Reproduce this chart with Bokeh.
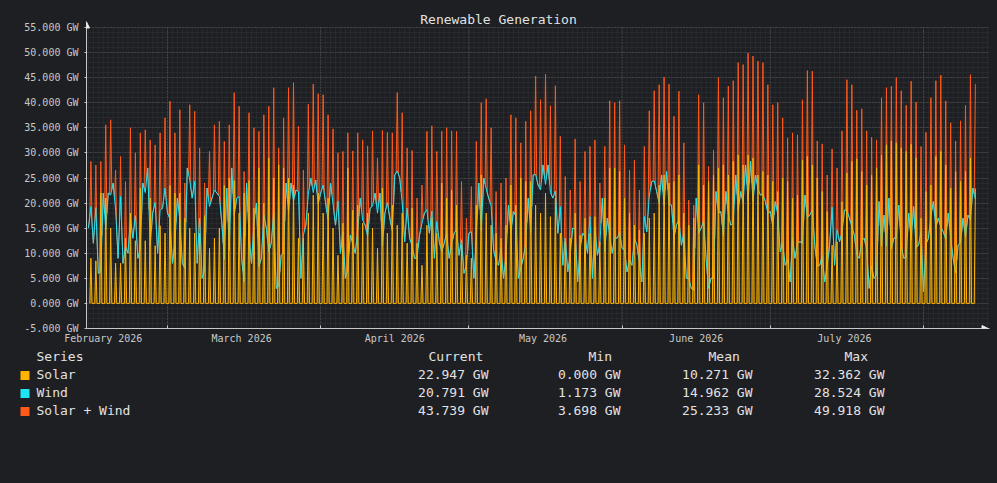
import numpy as np
from bokeh.plotting import figure
from bokeh.layouts import column
from bokeh.models import Range1d, FixedTicker, CustomJSTickFormatter, Arrow, NormalHead
from bokeh.core.properties import value
from bokeh.embed import file_html
from bokeh.resources import INLINE

# ---------------- data (days counted from 1 Feb 2026) ----------------
month_starts = [0, 28, 59, 89, 120, 150, 181]
month_label_pos = [15, 43, 74, 104, 135, 165]
month_labels = ["February 2026", "March 2026", "April 2026", "May 2026", "June 2026", "July 2026"]
first_day = 12  # 13 Feb 2026

# daily solar peak (GW, around midday)
solar_peak = [
    9, 8.5, 22, 21, 15, 8, 8, 13, 18, 12.5, 23, 12.5, 21, 11.5, 15.5, 14, 23.5, 22, 22, 17, 15, 14, 14, 17.5, 11, 13, 15, 23.5, 25, 24.5, 18, 22, 24.5, 19, 27, 20,
    29, 25, 27.6, 27, 25, 23.6, 13, 13, 18, 21.6, 22, 18, 21, 15, 9.6, 16, 27, 18.6, 19.6, 16, 18, 15, 11, 23, 14, 19.6, 15.6, 18, 12, 19, 12, 7.6, 15.6, 17, 14, 24,
    21, 22.6, 19.6, 11.6, 9.6, 9, 19.6, 25.6, 18, 15.6, 14, 13, 15.6, 23.6, 19.6, 25, 24.3, 24.3, 19.6, 18, 22, 17.3, 21, 14, 12.3, 13, 18, 13.6, 17, 14, 17.3, 12.3, 21, 27, 27, 26.3,
    21, 18, 15.6, 14.6, 14, 17, 18, 23.6, 25.6, 24, 24.3, 25.6, 18, 15.6, 17, 27.6, 23.6, 24.3, 25.6, 27, 27.6, 25.6, 28.3, 29.6, 27.6, 29.6, 29, 25.6, 26.3, 25.6, 24.3, 22.3, 25, 24.3, 21, 21.6,
    28.6, 29.3, 27.6, 25, 22.3, 18.3, 11.6, 12.3, 20.3, 26, 28.3, 28.8, 26.3, 23.6, 25.6, 27, 29.6, 31.6, 32.4, 32, 31, 30.3, 31.7, 29, 17, 22.3, 23.6, 29.3, 30.3, 27.6, 23, 26.3, 24.3, 26.3, 29, 22.9,
]
# wind around midday (GW)
wind_noon = [
    19.3, 19.1, 6.3, 14.6, 21.6, 18.6, 21.3, 11.3, 17, 17.5, 11, 22.1, 11.6, 20.1, 18.5, 23, 16.8, 12, 16.6, 7, 24.6, 24.3, 17, 6.5, 19.3, 22.6, 21.3, 8.8, 10.6, 17.5, 21.3, 4.3, 13.5, 16, 7.3, 17.6,
    10.3, 18, 3.4, 10, 18, 20.4, 22.3, 13.6, 21.7, 22.1, 19.8, 23.6, 16.6, 19.8, 20.4, 14.3, 7, 11.8, 14.4, 16.6, 13.4, 19.4, 18, 11.5, 20.1, 14.4, 26.4, 20, 19, 11.5, 9, 16, 18.7, 18.4, 16.3, 10.3,
    14, 11.8, 14.7, 12.7, 7.4, 14.3, 12.7, 14.4, 22.8, 19.4, 8.3, 11, 9.4, 14, 17.4, 7, 12, 14.1, 25.7, 22.6, 23.7, 22.1, 22.4, 19.3, 13, 9.6, 14.8, 10.7, 13.3, 17.3, 15.3, 11.7, 10.3, 13.4, 13, 14.1,
    10.6, 8.6, 13, 8, 17.3, 21.4, 24.4, 20, 19.5, 19.7, 13, 16.7, 14, 5, 2.6, 14, 16.4, 3, 5, 18, 13.4, 17.7, 16.1, 18.4, 20, 20.3, 20.3, 22.7, 21.7, 18, 15.3, 17.7, 12, 8.7, 13, 12,
    12, 17.1, 18.7, 7.4, 9.5, 7.3, 19.2, 14.7, 14.1, 18.6, 15.3, 9.7, 12.5, 10.8, 7.5, 5.6, 11.4, 11.4, 10.9, 13, 11.4, 9.2, 12.6, 11.1, 14.3, 11.8, 17.4, 15.1, 15.2, 12.8, 13, 6.1, 12.1, 13.2, 16.6, 20.8,
]
# wind around midnight (GW)
wind_night = [
    15, 12, 6, 22, 22, 24, 9, 8, 10, 13, 9, 24, 27, 18, 10, 19, 18, 8, 21, 8, 27, 21, 8, 5, 23, 21, 22, 16, 23, 27, 21, 9, 24, 8, 20, 9,
    15, 12, 3, 9.6, 24, 24, 22.6, 5, 15.6, 25, 24.6, 22, 20, 24, 15.6, 10, 5, 13.6, 10, 21, 15.6, 19, 22, 22, 18, 17, 25.6, 25, 12.3, 13, 9, 13.6, 18, 14, 9, 12.3,
    12, 9, 14, 9.6, 6, 14, 5, 24, 25, 21, 10.6, 7.6, 5, 19.6, 18.3, 5, 9, 21, 25.6, 23.6, 27.6, 27.6, 21, 14, 7.6, 6.3, 15, 4.3, 14, 10, 5, 9.6, 21, 17, 10, 13,
    11, 6.3, 7.6, 11.6, 4.3, 14.3, 24.3, 22.3, 25.6, 26.3, 19.6, 15.6, 11.6, 5, 3, 21, 15, 9, 5, 22.3, 18.3, 22.3, 15.6, 25.6, 22.3, 27.6, 28.3, 25.6, 21.6, 20.3, 18.3, 20.3, 10.3, 7.6, 4.3, 9,
    12.3, 21.6, 17.6, 11.6, 7.6, 4.3, 11.6, 7.6, 12.3, 18.6, 17, 13.6, 9, 13, 3, 5, 20.3, 17.6, 21, 13, 19.6, 9, 18, 19.3, 11.6, 2.3, 13, 20.3, 17, 14.3, 18, 9, 11.6, 17, 17.6, 23,
]

series_names = ["Solar", "Wind", "Solar + Wind"]
stat_current = ["22.947 GW", "20.791 GW", "43.739 GW"]
stat_min = ["0.000 GW", "1.173 GW", "3.698 GW"]
stat_mean = ["10.271 GW", "14.962 GW", "25.233 GW"]
stat_max = ["32.362 GW", "28.524 GW", "49.918 GW"]
y_ticks = list(range(-5, 56, 5))

# ---------------- styling ----------------
BG = "#1e1f22"
SOLAR = "#ffb300"
WIND = "#1ee3f5"
TOTAL = "#ff5a1a"
TXT = "#e2e2e2"
AX = "#c8c8c8"
MONO = "DejaVu Sans Mono"

# ---------------- series build ----------------
n = len(solar_peak)
days = first_day + np.arange(n, dtype=float)
sp = np.array(solar_peak, dtype=float)
wn = np.array(wind_noon, dtype=float)
wt = np.array(wind_night, dtype=float)
zeros = np.zeros(n)

wx = np.column_stack([days, days + 0.5]).ravel()
wy = np.column_stack([wt, wn]).ravel()
sx = np.column_stack([days + 0.27, days + 0.5, days + 0.73]).ravel()[:-1]
sy = np.column_stack([zeros, sp, zeros]).ravel()[:-1]
# total = sum of the two drawn curves, evaluated on the union of their breakpoints
tx = np.union1d(wx, sx)
tw = np.interp(tx, wx, wy)
ty = tw + np.interp(tx, sx, sy, left=0.0, right=0.0)

# ---------------- main figure ----------------
px_per_day = 756.0 / 153.0
x0 = 28 - 81.0 / px_per_day
x1 = 28 + 822.0 / px_per_day
px_per_gw = 301.0 / 60.0
MAIN_H = 348
y1 = -5 + 328.0 / px_per_gw

p = figure(width=997, height=MAIN_H, title=None,
           x_range=Range1d(x0, x1), y_range=Range1d(-5, y1),
           toolbar_location=None, output_backend="svg",
           min_border_left=86, min_border_right=8, min_border_top=0,
           min_border_bottom=MAIN_H - 328)
p.frame_align = False
p.background_fill_color = BG
p.border_fill_color = BG
p.outline_line_color = None

minor_days = [d for d in range(int(np.ceil(x0)), int(x1) + 1)]
p.segment(x0=minor_days, y0=-5, x1=minor_days, y1=55, line_color="#333439", line_dash="1 1", line_width=1)
major_days = [m for m in month_starts if x0 < m < x1]
p.segment(x0=major_days, y0=-5, x1=major_days, y1=55, line_color="#5c5d61", line_dash="1 2", line_width=1)

yt = FixedTicker(ticks=y_ticks, minor_ticks=list(range(-5, 56, 1)))
p.yaxis.ticker = yt
p.ygrid.ticker = yt
p.ygrid.grid_line_color = "#5c5d61"
p.ygrid.grid_line_dash = "1 2"
p.ygrid.minor_grid_line_color = "#333439"
p.ygrid.minor_grid_line_dash = "1 1"
p.xgrid.visible = False

# series
p.varea(x=tx, y1=tw, y2=ty, fill_color=TOTAL, fill_alpha=0.35)
p.line(tx, ty, line_color=TOTAL, line_width=1)
p.line(wx, wy, line_color=WIND, line_width=1)
p.varea(x=sx, y1=0, y2=sy, fill_color=SOLAR, fill_alpha=0.36)
p.line(sx, sy, line_color=SOLAR, line_width=1)

# axes
p.yaxis.bounds = (-5, 56.1)
p.yaxis.formatter = CustomJSTickFormatter(code="return tick.toFixed(3) + ' GW';")
p.yaxis.axis_line_color = AX
p.yaxis.major_tick_line_color = AX
p.yaxis.major_tick_in = 0
p.yaxis.major_tick_out = 2
p.yaxis.minor_tick_line_color = None
p.yaxis.major_label_standoff = 4
p.yaxis.major_label_text_font = MONO
p.yaxis.major_label_text_font_size = "10px"
p.yaxis.major_label_text_color = AX

p.xaxis.ticker = FixedTicker(ticks=month_label_pos, minor_ticks=month_starts)
p.xaxis.formatter = CustomJSTickFormatter(args=dict(pos=month_label_pos, names=month_labels),
                                          code="const i = pos.indexOf(tick); return i < 0 ? '' : names[i];")
p.xaxis.axis_line_color = AX
p.xaxis.major_tick_line_color = None
p.xaxis.major_tick_in = 0
p.xaxis.major_tick_out = 0
p.xaxis.minor_tick_line_color = AX
p.xaxis.minor_tick_in = 3
p.xaxis.minor_tick_out = 0
p.xaxis.major_label_standoff = 4
p.xaxis.major_label_text_font = MONO
p.xaxis.major_label_text_font_size = "10px"
p.xaxis.major_label_text_color = AX

head_y = NormalHead(size=6, fill_color="#eeeeee", line_color="#eeeeee")
p.add_layout(Arrow(end=head_y, x_start=x0, y_start=54, x_end=x0, y_end=56.1, line_alpha=0))
head_x = NormalHead(size=6, fill_color="#eeeeee", line_color="#eeeeee")
p.add_layout(Arrow(end=head_x, x_start=x1 - 2, y_start=-5, x_end=x1 - 0.3, y_end=-5, line_alpha=0))

title_x = x0 + (498 - 86) / px_per_day
title_y = (303 - 19) / px_per_gw
p.text(x=[title_x], y=[title_y], text=["Renewable Generation"], text_align="center",
       text_baseline="middle", text_font=value(MONO), text_font_size="13px", text_color=TXT)

# ---------------- legend table ----------------
LG_H = 130
lg = figure(width=997, height=LG_H, x_range=Range1d(0, 997), y_range=Range1d(LG_H, 0),
            toolbar_location=None, output_backend="svg", x_axis_location=None, y_axis_location=None,
            min_border=0)
lg.frame_align = False
lg.background_fill_color = BG
lg.border_fill_color = BG
lg.outline_line_color = None
lg.grid.visible = False

row_y = [374 - MAIN_H, 392 - MAIN_H, 410 - MAIN_H]
head_row = 356 - MAIN_H
lg.rect(x=[24.5] * 3, y=[r + 1 for r in row_y], width=9, height=9,
        fill_color=[SOLAR, WIND, TOTAL], line_color=None)
common = dict(text_font=value(MONO), text_font_size="13px", text_color=TXT, text_baseline="middle")
lg.text(x=[36, 428, 588, 708, 844], y=[head_row] * 5, text=["Series", "Current", "Min", "Mean", "Max"],
        text_align="left", **common)
lg.text(x=[36] * 3, y=row_y, text=series_names, text_align="left", **common)
for col_x, vals in zip([488, 620, 752, 884], [stat_current, stat_min, stat_mean, stat_max]):
    lg.text(x=[col_x] * 3, y=row_y, text=vals, text_align="right", **common)

layout = column(p, lg, spacing=0)
html = file_html(layout, INLINE, title="Renewable Generation")
html = html.replace("</head>", "<style>html,body{background:%s;}</style></head>" % BG, 1)
open("out.html", "w").write(html)
